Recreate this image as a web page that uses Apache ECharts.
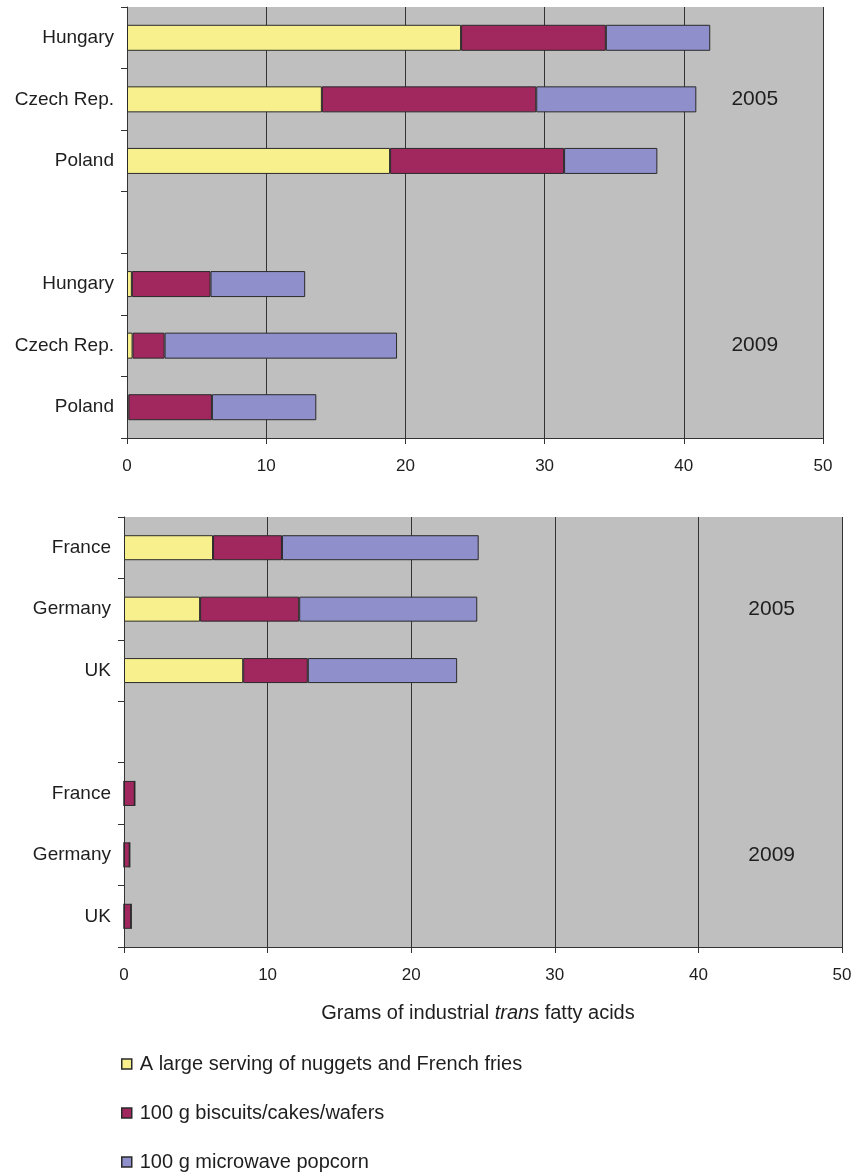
<!DOCTYPE html>
<html>
<head>
<meta charset="utf-8">
<script src="https://cdn.jsdelivr.net/npm/echarts@6/dist/echarts.min.js"></script>
<style>
  html, body { margin: 0; padding: 0; background: #fff; }
  #chart { width: 854px; height: 1174px; }
</style>
</head>
<body>
<div id="chart"></div>
<script>
// categories (one blank slot separates the two years)
const eastCountries = ['Hungary', 'Czech Rep.', 'Poland']
const westCountries = ['France', 'Germany', 'UK']
const years = ['2005', '2009']

// grams of industrial trans fatty acids - east panel
const eastFries2005 = [24.0, 14.0, 18.9]
const eastBiscuits2005 = [10.4, 15.4, 12.5]
const eastPopcorn2005 = [7.5, 11.5, 6.7]
const eastFries2009 = [0.35, 0.4, 0.1]
const eastBiscuits2009 = [5.65, 2.3, 6.0]
const eastPopcorn2009 = [6.8, 16.7, 7.5]

// west panel
const westFries2005 = [6.2, 5.3, 8.3]
const westBiscuits2005 = [4.8, 6.9, 4.5]
const westPopcorn2005 = [13.7, 12.4, 10.4]
const westFries2009 = [0, 0, 0]
const westBiscuits2009 = [0.75, 0.4, 0.5]
const westPopcorn2009 = [0, 0, 0]

const seriesNames = [
  'A large serving of nuggets and French fries',
  '100 g biscuits/cakes/wafers',
  '100 g microwave popcorn'
]
const colors = ['#f8f08c', '#a1285f', '#8f8fcc']

const xTicks = [0, 10, 20, 30, 40, 50]
const yearLabelX = 45.1
const yearLabelRows = [1, 5]

const font = '"Liberation Sans", Arial, sans-serif'
const ink = '#1e1e1e'
const lineColor = '#333'

// category keys: 3 countries, blank, 3 countries
const makeKeys = (countries) => [
  ...countries.map(c => c + ' ' + years[0]),
  'gap',
  ...countries.map(c => c + ' ' + years[1])
]
const makeLabels = (countries) => [...countries, '', ...countries]
const joinYears = (a, b) => [...a, null, ...b]

const eastKeys = makeKeys(eastCountries)
const westKeys = makeKeys(westCountries)
const eastLabels = makeLabels(eastCountries)
const westLabels = makeLabels(westCountries)

const eastData = [
  joinYears(eastFries2005, eastFries2009),
  joinYears(eastBiscuits2005, eastBiscuits2009),
  joinYears(eastPopcorn2005, eastPopcorn2009)
]
const westData = [
  joinYears(westFries2005, westFries2009),
  joinYears(westBiscuits2005, westBiscuits2009),
  joinYears(westPopcorn2005, westPopcorn2009)
]

const valueAxis = (gridIndex, extra) => Object.assign({
  type: 'value',
  gridIndex,
  min: xTicks[0],
  max: xTicks[xTicks.length - 1],
  interval: 10,
  axisLine: { show: true, lineStyle: { color: lineColor, width: 1 } },
  axisTick: { show: true, length: 6, lineStyle: { color: lineColor } },
  splitLine: { show: true, lineStyle: { color: lineColor, width: 1 } },
  axisLabel: { color: ink, fontSize: 17, fontFamily: font, margin: 20 }
}, extra || {})

const categoryAxis = (gridIndex, keys, labels) => ({
  type: 'category',
  gridIndex,
  inverse: true,
  data: keys,
  axisLine: { show: true, lineStyle: { color: lineColor, width: 1 } },
  axisTick: { show: true, length: 6, lineStyle: { color: lineColor } },
  splitLine: { show: false },
  axisLabel: {
    color: ink, fontSize: 19, fontFamily: font, margin: 13,
    formatter: (v, i) => labels[i]
  }
})

const barSeries = (gridIndex, data, stack, barWidth) => data.map((d, k) => ({
  name: seriesNames[k],
  type: 'bar',
  xAxisIndex: gridIndex,
  yAxisIndex: gridIndex,
  stack,
  barWidth,
  data: d,
  itemStyle: { color: colors[k], borderColor: '#2a2a2a', borderWidth: 1 },
  emphasis: { disabled: true }
}))

const yearSeries = (gridIndex) => ({
  type: 'scatter',
  xAxisIndex: gridIndex,
  yAxisIndex: gridIndex,
  symbolSize: 1,
  silent: true,
  itemStyle: { color: 'transparent', opacity: 1 },
  data: years.map((y, i) => [yearLabelX, yearLabelRows[i], y]),
  label: {
    show: true,
    position: 'inside',
    formatter: p => p.value[2],
    color: ink,
    opacity: 1,
    fontSize: 21,
    fontFamily: font
  }
})

const chart = echarts.init(document.getElementById('chart'))
chart.setOption({
  backgroundColor: '#fff',
  animation: false,
  textStyle: { fontFamily: font },
  grid: [
    { left: 127, top: 7, width: 696, height: 431, show: true, backgroundColor: '#bfbfbf', borderWidth: 0, outerBoundsMode: 'none' },
    { left: 124, top: 517, width: 718, height: 430, show: true, backgroundColor: '#bfbfbf', borderWidth: 0, outerBoundsMode: 'none' }
  ],
  xAxis: [
    valueAxis(0),
    valueAxis(1, {
      name: 'Grams of industrial {i|trans} fatty acids',
      nameLocation: 'middle',
      nameGap: 56,
      nameTextStyle: {
        color: ink, fontSize: 20, fontFamily: font, padding: [0, 10, 0, 0],
        rich: { i: { fontStyle: 'italic', fontSize: 20, color: ink, fontFamily: font } }
      }
    })
  ],
  yAxis: [
    categoryAxis(0, eastKeys, eastLabels),
    categoryAxis(1, westKeys, westLabels)
  ],
  legend: {
    orient: 'vertical',
    left: 121,
    top: 1054,
    height: 160,
    padding: 0,
    itemWidth: 10,
    itemHeight: 10,
    itemGap: 29,
    icon: 'rect',
    selectedMode: false,
    data: seriesNames,
    itemStyle: { borderColor: '#2a2a2a', borderWidth: 1.5 },
    textStyle: { color: ink, fontSize: 20, fontFamily: font, padding: [0, 0, 0, 3] }
  },
  series: [
    ...barSeries(0, eastData, 'east', 26),
    ...barSeries(1, westData, 'west', 25),
    yearSeries(0),
    yearSeries(1)
  ]
})
</script>
</body>
</html>
